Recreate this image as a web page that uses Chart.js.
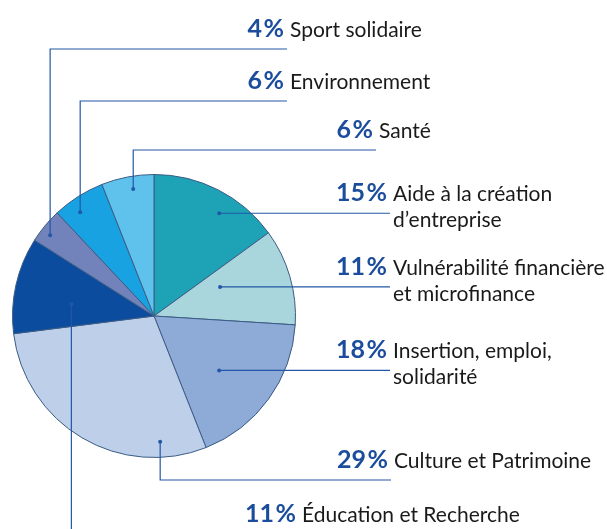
<!DOCTYPE html>
<html>
<head>
<meta charset="utf-8">
<script src="https://cdn.jsdelivr.net/npm/chart.js@4/dist/chart.umd.min.js"></script>
<style>
  html, body { margin: 0; padding: 0; background: #fff; }
  #wrap { width: 607px; height: 529px; position: relative; }
</style>
</head>
<body>
<div id="wrap"><canvas id="pie"></canvas></div>
<script>
// shares in %, clockwise from 12 o'clock
const categories = [
    ['Aide à la création', 'd’entreprise'],
    ['Vulnérabilité financière', 'et microfinance'],
    ['Insertion, emploi,', 'solidarité'],
    ['Culture et Patrimoine'],
    ['Éducation et Recherche'],
    ['Sport solidaire'],
    ['Environnement'],
    ['Santé']
];
const shares = [15, 11, 18, 29, 11, 4, 6, 6];
const sliceColors = ['#1ea3b6', '#a9d5dc', '#8eaad7', '#bdcfe9', '#0b4c9f', '#7282ba', '#18a2e2', '#5ec2ec'];

// callout layout: where each leader line sits inside its slice and where it goes
// t = position along the slice angle, r = fraction of radius
const callouts = [
    { t: 0.60, r: 0.86, kind: 'right', endX: 390 },
    { t: 0.31, r: 0.51, kind: 'right', endX: 390 },
    { t: 0.56, r: 0.60, kind: 'right', endX: 390 },
    { t: 0.18, r: 0.89, kind: 'down', lineY: 480, endX: 391 },
    { t: 0.39, r: 0.59, kind: 'drop', textX: 299, textY: 522 },
    { t: 0.38, r: 0.93, kind: 'up', lineY: 49, endX: 287 },
    { t: 0.36, r: 0.90, kind: 'up', lineY: 101, endX: 287 },
    { t: 0.57, r: 0.91, kind: 'up', lineY: 150, endX: 376 }
];

const LINE = '#2257a6';
const PCT_FONT = 'bold 25px Lato';
const LBL_FONT = '21px Lato';

const calloutPlugin = {
    id: 'callouts',
    afterDraw(chart) {
        const ctx = chart.ctx;
        const arcs = chart.getDatasetMeta(0).data;
        ctx.save();
        arcs.forEach((arc, i) => {
            const c = callouts[i];
            const a = arc.startAngle + (arc.endAngle - arc.startAngle) * c.t;
            const px = arc.x + Math.cos(a) * arc.outerRadius * c.r;
            const py = arc.y + Math.sin(a) * arc.outerRadius * c.r;

            ctx.strokeStyle = LINE;
            ctx.lineWidth = 1.2;
            ctx.beginPath();
            ctx.moveTo(px, py);
            let tx, ty;
            if (c.kind === 'right') {
                ctx.lineTo(c.endX, py);
                tx = c.endX; ty = py - 12;
            } else if (c.kind === 'up' || c.kind === 'down') {
                ctx.lineTo(px, c.lineY);
                ctx.lineTo(c.endX, c.lineY);
                tx = c.endX; ty = c.lineY - 12;
            } else {
                ctx.lineTo(px, chart.height);
                tx = c.textX; ty = c.textY;
            }
            ctx.stroke();

            ctx.fillStyle = LINE;
            ctx.beginPath();
            ctx.arc(px, py, 2, 0, Math.PI * 2);
            ctx.fill();

            ctx.textBaseline = 'alphabetic';
            ctx.font = PCT_FONT;
            ctx.textAlign = 'right';
            ctx.fillStyle = '#1b4d9c';
            ctx.fillText(shares[i] + '\u200a%', tx - 3, ty);

            ctx.font = LBL_FONT;
            ctx.textAlign = 'left';
            ctx.fillStyle = '#1a1a1a';
            categories[i].forEach((line, k) => {
                ctx.fillText(line, tx + 3, ty + k * 26);
            });
        });
        ctx.restore();
    }
};

new Chart(document.getElementById('pie'), {
    type: 'pie',
    data: {
        labels: categories.map(c => c.join(' ')),
        datasets: [{
            data: shares,
            backgroundColor: sliceColors,
            borderColor: '#3b5c85',
            borderWidth: 1
        }]
    },
    options: {
        responsive: true,
        maintainAspectRatio: false,
        animation: false,
        layout: { padding: { left: 12, right: 311, top: 174, bottom: 71 } },
        plugins: {
            legend: { display: false },
            tooltip: { enabled: false }
        }
    },
    plugins: [calloutPlugin]
});
</script>
</body>
</html>
